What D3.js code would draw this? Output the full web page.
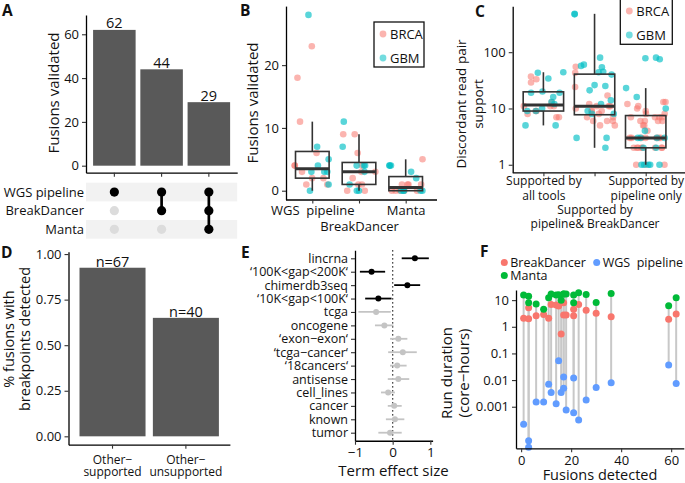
<html>
<head>
<meta charset="utf-8">
<style>
  body { margin: 0; background: #fff; }
  text { font-family: "Open Sans", sans-serif; fill: #111; white-space: pre; }
</style>
</head>
<body>
<svg width="685" height="483"></svg>
<script src="https://d3js.org/d3.v7.min.js"></script>
<script>
// ---------- data ----------
// A: upset bars
var aCounts = [62, 44, 29];
var aTools = ["WGS pipeline", "BreakDancer", "Manta"];
var aSets = [[1, 0, 0], [1, 1, 0], [1, 1, 1]];

// B: fusions validated per sample
var bTools = ["WGS  pipeline", "BreakDancer", "Manta"];
var bBRCA = [
  [23, 18, 11, 6, 4, 4, 3, 2, 2, 1, 1],
  [9, 9, 6, 4, 3, 3, 2, 1, 1, 0, 0],
  [5, 1, 1, 1, 1, 0, 0, 0, 0, 0]
];
var bGBM = [
  [28, 7, 5, 4, 3, 3, 3, 1, 0],
  [11, 7, 4, 4, 4, 3, 1, 0, 0],
  [4, 4, 4, 3, 2, 0, 0, 0, 0, 0]
];

// C: discordant read pair support
var cGroups = ["Supported by\nall tools", "Supported by\npipeline& BreakDancer", "Supported by\npipeline only"];
var cBRCA = [
  [37, 33, 29, 13, 11, 11, 11, 9, 9, 8, 7, 7],
  [55, 43, 24, 17, 12, 11, 11, 11, 10, 9, 9, 9, 8, 7, 7, 6, 6, 6, 5, 5],
  [13, 13, 12, 11, 10, 9, 8, 8, 7, 7, 7, 7, 6, 6, 6, 6, 5, 5, 4, 3, 3, 3, 3, 3, 3, 3, 2, 2, 2, 2, 2, 2, 2, 2, 1, 1, 1]
];
var cGBM = [
  [44, 43, 34, 20, 19, 19, 16, 13, 12, 10, 9, 9, 5, 5],
  [480, 470, 80, 60, 57, 54, 45, 44, 40, 26, 25, 21, 14, 12, 9, 8, 8, 3, 3, 2],
  [80, 78, 75, 23, 16, 10, 4, 3, 3, 3, 3, 2, 2, 1, 1, 1, 1, 1]
];

// D: fraction with breakpoints detected
var dGroups = ["Other\u2212\nsupported", "Other\u2212\nunsupported"];
var dFraction = [0.925, 0.65];
var dN = [67, 40];

// E: term effect sizes
var eTerms = ["lincrna", "\u2018100K<gap<200K\u2018", "chimerdb3seq", "\u201810K<gap<100K\u2018", "tcga", "oncogene",
  "\u2018exon\u2212exon\u2018", "\u2018tcga\u2212cancer\u2018", "\u201818cancers\u2018", "antisense", "cell_lines", "cancer", "known", "tumor"];
var eEffect = [0.59, -0.56, 0.39, -0.38, -0.44, -0.22, 0.15, 0.27, 0.12, 0.15, -0.12, 0.04, 0.06, -0.07];
var eLow = [0.24, -0.87, 0.04, -0.73, -0.91, -0.47, -0.07, -0.12, -0.07, -0.13, -0.31, -0.13, -0.18, -0.38];
var eHigh = [0.96, -0.2, 0.73, -0.03, -0.05, 0.02, 0.39, 0.64, 0.37, 0.44, 0.06, 0.24, 0.31, 0.24];
var eSignif = [1, 1, 1, 1, 0, 0, 0, 0, 0, 0, 0, 0, 0, 0];

// F: run duration vs fusions detected
var fFusions = [1, 3, 3, 6, 9, 11, 12, 14, 15, 16, 17, 17, 18, 21, 21, 23, 26, 30, 36, 59, 62];
var fBreakDancer = [2.1, 2.0, 5.2, 2.6, 2.9, 2.1, 6.9, 6.5, 6.0, 0.53, 7.9, 2.75, 2.75, 4.5, 2.6, 6.9, 4.2, 3.2, 2.4, 1.9, 3.0];
var fWGS = [0.00022, 0.000053, 0.00003, 0.0015, 0.0015, 0.0069, 0.0034, 0.0013, 0.053, 0.0034, 0.013, 0.0049, 0.00075, 0.012, 0.0006, 0.00032, 0.0018, 0.0053, 0.008, 0.037, 0.0075];
var fManta = [15.5, 14, 7.9, 7.1, 4.5, 12.2, 16.8, 15.5, 16, 10, 16.8, 16.8, 16.8, 15.5, 7.9, 18.8, 16.4, 8.2, 17.9, 6.1, 12.2];
var fSeries = ["BreakDancer", "WGS  pipeline", "Manta"];

// ---------- helpers ----------
var FONT = '"Open Sans", sans-serif';
var PINK = "#F8766D", TEAL = "#00BFC4", BLUE = "#619CFF", GREEN = "#00BA38", BAR = "#595959";
var svg = d3.select("svg");

function styleAxis(g, fs) {
  g.attr("font-family", FONT).attr("font-size", fs || 13);
  g.select(".domain").attr("stroke", "#000").attr("stroke-width", 1.3);
  g.selectAll(".tick line").attr("stroke", "#333").attr("stroke-width", 1.1);
  g.selectAll(".tick text").attr("fill", "#111");
  return g;
}

function panelLetter(x, y, s) {
  svg.append("text").attr("x", x).attr("y", y).attr("font-size", 15.5).attr("font-weight", "bold").text(s);
}

function multiline(sel, str, lh) {
  var lines = str.split("\n");
  sel.text(null);
  lines.forEach(function (l, i) {
    sel.append("tspan").attr("x", sel.attr("x")).attr("dy", i === 0 ? 0 : lh).text(l);
  });
}

var rnd = d3.randomUniform.source(d3.randomLcg(0.37))(-1, 1);

function boxStats(vals, tf, inv) {
  var t = vals.map(tf).sort(d3.ascending);
  var q1 = d3.quantileSorted(t, 0.25), med = d3.quantileSorted(t, 0.5), q3 = d3.quantileSorted(t, 0.75);
  var iqr = q3 - q1;
  var lo = d3.min(t.filter(function (v) { return v >= q1 - 1.5 * iqr; }));
  var hi = d3.max(t.filter(function (v) { return v <= q3 + 1.5 * iqr; }));
  return { q1: inv(q1), med: inv(med), q3: inv(q3), lo: inv(lo), hi: inv(hi) };
}

function drawBox(g, cx, w, y, s) {
  g.append("line").attr("x1", cx).attr("x2", cx).attr("y1", y(s.hi)).attr("y2", y(s.q3)).attr("stroke", "#333").attr("stroke-width", 1.6);
  g.append("line").attr("x1", cx).attr("x2", cx).attr("y1", y(s.q1)).attr("y2", y(s.lo)).attr("stroke", "#333").attr("stroke-width", 1.6);
  g.append("rect").attr("x", cx - w / 2).attr("width", w).attr("y", y(s.q3)).attr("height", y(s.q1) - y(s.q3))
    .attr("fill", "none").attr("stroke", "#333").attr("stroke-width", 1.6);
  g.append("line").attr("x1", cx - w / 2).attr("x2", cx + w / 2).attr("y1", y(s.med)).attr("y2", y(s.med)).attr("stroke", "#333").attr("stroke-width", 3);
}

function legendBox(g, x, y, w, h, items) {
  g.append("rect").attr("x", x).attr("y", y).attr("width", w).attr("height", h).attr("fill", "#fff").attr("stroke", "#111").attr("stroke-width", 1.3);
  items.forEach(function (it, i) {
    var cy = y + 12 + i * 24;
    g.append("circle").attr("cx", x + 9).attr("cy", cy).attr("r", 3.4).attr("fill", it.c).attr("fill-opacity", 0.55);
    g.append("text").attr("x", x + 16).attr("y", cy).attr("dy", "0.36em").attr("font-size", 13).text(it.t);
  });
}

// ---------- panel A ----------
var gA = svg.append("g");
var aX = d3.scaleBand().domain(d3.range(aCounts.length)).range([86, 237.2]).paddingInner(0.1).paddingOuter(0.15);
var aY = d3.scaleLinear().domain([-3.2, 68.8]).range([172.7, 15]);
gA.selectAll("rect.bar").data(aCounts).join("rect").attr("class", "bar")
  .attr("x", function (d, i) { return aX(i); }).attr("width", aX.bandwidth())
  .attr("y", function (d) { return aY(d); }).attr("height", function (d) { return aY(0) - aY(d); })
  .attr("fill", BAR);
gA.selectAll("text.lab").data(aCounts).join("text").attr("class", "lab")
  .attr("x", function (d, i) { return aX(i) + aX.bandwidth() / 2; }).attr("y", function (d) { return aY(d) - 1.5; })
  .attr("text-anchor", "middle").attr("font-size", 14.5).text(function (d) { return d; });
styleAxis(gA.append("g").attr("transform", "translate(86,0)")
  .call(d3.axisLeft(aY).tickValues([0, 20, 40, 60]).tickSize(4).tickSizeOuter(0)));
styleAxis(gA.append("g").attr("transform", "translate(0,172.7)")
  .call(d3.axisBottom(aX).tickSize(4).tickSizeOuter(0).tickFormat("")));
gA.append("text").attr("transform", "translate(53.5,93) rotate(-90)").attr("text-anchor", "middle").attr("dy", "0.35em")
  .attr("font-size", 15).text("Fusions validated");

var aRow = d3.scaleBand().domain(aTools).range([182.7, 238.7]);
gA.selectAll("rect.band").data(aTools.filter(function (d, i) { return i % 2 === 0; })).join("rect").attr("class", "band")
  .attr("x", 86).attr("width", 151.2).attr("y", function (d) { return aRow(d); }).attr("height", aRow.bandwidth()).attr("fill", "#f2f2f2");
gA.selectAll("text.row").data(aTools).join("text").attr("class", "row")
  .attr("x", 84).attr("y", function (d) { return aRow(d) + aRow.bandwidth() / 2; }).attr("dy", "0.36em")
  .attr("text-anchor", "end").attr("font-size", 13).text(function (d) { return d; });
aSets.forEach(function (set, i) {
  var cx = aX(i) + aX.bandwidth() / 2;
  var act = aTools.filter(function (t, j) { return set[j]; });
  gA.append("line").attr("x1", cx).attr("x2", cx)
    .attr("y1", aRow(act[0]) + aRow.bandwidth() / 2).attr("y2", aRow(act[act.length - 1]) + aRow.bandwidth() / 2)
    .attr("stroke", "#000").attr("stroke-width", 2.7);
  aTools.forEach(function (t, j) {
    gA.append("circle").attr("cx", cx).attr("cy", aRow(t) + aRow.bandwidth() / 2).attr("r", 4.6)
      .attr("fill", set[j] ? "#000" : "#dcdcdc");
  });
});
panelLetter(2, 16, "A");

// ---------- panel B ----------
var gB = svg.append("g");
var bX = d3.scalePoint().domain(bTools).range([284.3, 433.7]).padding(0.6);
var bY = d3.scaleLinear().domain([-1.4, 29.4]).range([199.5, 6.1]);
var bStep = bX.step();
bTools.forEach(function (t, i) {
  var pts = bBRCA[i].map(function (v) { return { v: v, c: PINK }; }).concat(bGBM[i].map(function (v) { return { v: v, c: TEAL }; }));
  pts.forEach(function (p) {
    gB.append("circle").attr("cx", bX(t) + rnd() * 0.38 * bStep).attr("cy", bY(p.v)).attr("r", 3.3)
      .attr("fill", p.c).attr("fill-opacity", p.c === PINK ? 0.55 : 0.65);
  });
  var s = boxStats(bBRCA[i].concat(bGBM[i]), function (v) { return v; }, function (v) { return v; });
  drawBox(gB, bX(t), 0.72 * bStep, bY, s);
});
styleAxis(gB.append("g").attr("transform", "translate(286,0)")
  .call(d3.axisLeft(bY).tickValues([0, 10, 20]).tickSize(4).tickSizeOuter(0)));
var bAx = styleAxis(gB.append("g").attr("transform", "translate(0,199.5)")
  .call(d3.axisBottom(bX).tickSize(4).tickSizeOuter(0)));
bAx.select(".domain").attr("d", "M286,0.5H437");
bAx.selectAll(".tick text").attr("dy", null).attr("y", function (d, i) { return i === 1 ? 28 : 12.5; }).attr("dominant-baseline", "middle");
gB.append("text").attr("transform", "translate(252.5,103) rotate(-90)").attr("text-anchor", "middle").attr("dy", "0.35em")
  .attr("font-size", 15).text("Fusions validated");
legendBox(gB, 374, 22, 50, 45, [{ c: PINK, t: "BRCA" }, { c: TEAL, t: "GBM" }]);
panelLetter(240, 16, "B");

// ---------- panel C ----------
var gC = svg.append("g");
var cX = d3.scalePoint().domain(cGroups).range([512.7, 676.4]).padding(0.6);
var cY = d3.scaleLog().domain([Math.pow(10, -0.134), Math.pow(10, 2.815)]).range([172.3, 6.3]);
var cStep = cX.step();
cGroups.forEach(function (g, i) {
  var pts = cBRCA[i].map(function (v) { return { v: v, c: PINK }; }).concat(cGBM[i].map(function (v) { return { v: v, c: TEAL }; }));
  pts.forEach(function (p) {
    gC.append("circle").attr("cx", cX(g) + rnd() * 0.4 * cStep).attr("cy", cY(p.v)).attr("r", 3.3)
      .attr("fill", p.c).attr("fill-opacity", p.c === PINK ? 0.55 : 0.65);
  });
  var s = boxStats(cBRCA[i].concat(cGBM[i]), Math.log10, function (v) { return Math.pow(10, v); });
  drawBox(gC, cX(g), 0.79 * cStep, cY, s);
});
styleAxis(gC.append("g").attr("transform", "translate(512.7,0)")
  .call(d3.axisLeft(cY).tickValues([1, 10, 100]).tickFormat(d3.format("d")).tickSize(4).tickSizeOuter(0)));
var cAx = styleAxis(gC.append("g").attr("transform", "translate(0,172.3)")
  .call(d3.axisBottom(cX).tickSize(4).tickSizeOuter(0)));
cAx.select(".domain").attr("d", "M512.7,0.5H685");
cAx.selectAll(".tick text").each(function (d, i) {
  var t = d3.select(this).attr("dy", null).attr("y", i === 1 ? 41.5 : 13).attr("font-size", 12);
  multiline(t.attr("x", 0), d, 14.5);
});
gC.append("text").attr("transform", "translate(470,104) rotate(-90)").attr("text-anchor", "middle").attr("font-size", 13.5)
  .call(function (t) {
    t.append("tspan").attr("x", 0).attr("y", -4).text("Discordant read pair");
    t.append("tspan").attr("x", 0).attr("y", 13).text("support");
  });
legendBox(gC, 620.3, -1, 52, 45.3, [{ c: PINK, t: "BRCA" }, { c: TEAL, t: "GBM" }]);
panelLetter(475, 16.5, "C");

// ---------- panel D ----------
var gD = svg.append("g");
var dX = d3.scaleBand().domain(dGroups).range([68.5, 229.9]).paddingInner(0.1).paddingOuter(0.15);
var dY = d3.scaleLinear().domain([-0.046, 1.013]).range([444.7, 251.7]);
gD.selectAll("rect").data(dFraction).join("rect")
  .attr("x", function (d, i) { return dX(dGroups[i]); }).attr("width", dX.bandwidth())
  .attr("y", function (d) { return dY(d); }).attr("height", function (d) { return dY(0) - dY(d); }).attr("fill", BAR);
gD.selectAll("text.lab").data(dFraction).join("text").attr("class", "lab")
  .attr("x", function (d, i) { return dX(dGroups[i]) + dX.bandwidth() / 2; }).attr("y", function (d) { return dY(d) - 0.5; })
  .attr("text-anchor", "middle").attr("font-size", 14.5).text(function (d, i) { return "n=" + dN[i]; });
styleAxis(gD.append("g").attr("transform", "translate(68.5,0)")
  .call(d3.axisLeft(dY).tickValues([0, 0.25, 0.5, 0.75, 1]).tickFormat(d3.format(".2f")).tickSize(4).tickSizeOuter(0)));
var dAx = styleAxis(gD.append("g").attr("transform", "translate(0,444.7)")
  .call(d3.axisBottom(dX).tickSize(4).tickSizeOuter(0)));
dAx.selectAll(".tick text").each(function (d) {
  var t = d3.select(this).attr("dy", null).attr("y", 19).attr("font-size", 12);
  multiline(t.attr("x", 0), d, 12.5);
});
gD.append("text").attr("transform", "translate(17,339) rotate(-90)").attr("text-anchor", "middle").attr("font-size", 14.5)
  .call(function (t) {
    t.append("tspan").attr("x", 0).attr("y", -3).text("% fusions with");
    t.append("tspan").attr("x", 0).attr("y", 13).text("breakpoints detected");
  });
panelLetter(1, 257.5, "D");

// ---------- panel E ----------
var gE = svg.append("g");
var eX = d3.scaleLinear().domain([-1.0, 1.06]).range([355, 432.6]);
var eY = d3.scalePoint().domain(eTerms).range([250.25, 440.75]).padding(0.6);
gE.append("line").attr("x1", eX(0)).attr("x2", eX(0)).attr("y1", 250.25).attr("y2", 440.75)
  .attr("stroke", "#111").attr("stroke-width", 1.3).attr("stroke-dasharray", "1.3,2.7");
eTerms.forEach(function (t, i) {
  var col = eSignif[i] ? "#000" : "#c4c4c4";
  gE.append("line").attr("x1", eX(eLow[i])).attr("x2", eX(eHigh[i])).attr("y1", eY(t)).attr("y2", eY(t))
    .attr("stroke", col).attr("stroke-width", 1.8);
  gE.append("circle").attr("cx", eX(eEffect[i])).attr("cy", eY(t)).attr("r", 3).attr("fill", col);
});
styleAxis(gE.append("g").attr("transform", "translate(355,0)")
  .call(d3.axisLeft(eY).tickSize(4).tickSizeOuter(0)), 12.5);
styleAxis(gE.append("g").attr("transform", "translate(0,440.75)")
  .call(d3.axisBottom(eX).tickValues([-1, 0, 1]).tickFormat(d3.format("d")).tickSize(4).tickSizeOuter(0)), 13.5);
gE.append("text").attr("x", 393.5).attr("y", 476).attr("text-anchor", "middle").attr("font-size", 15).text("Term effect size");
panelLetter(241, 258, "E");

// ---------- panel F ----------
var gF = svg.append("g");
var fX = d3.scaleLinear().domain([-2.05, 65.05]).range([516, 683.8]);
var fY = d3.scaleLog().domain([Math.pow(10, -4.56), Math.pow(10, 1.38)]).range([448.3, 290]);
var fVals = [fBreakDancer, fWGS, fManta];
var fCols = [PINK, BLUE, GREEN];
fFusions.forEach(function (x, i) {
  var vs = fVals.map(function (a) { return a[i]; });
  gF.append("line").attr("x1", fX(x)).attr("x2", fX(x)).attr("y1", fY(d3.min(vs))).attr("y2", fY(d3.max(vs)))
    .attr("stroke", "#c8c8c8").attr("stroke-width", 2);
});
fVals.forEach(function (arr, k) {
  gF.selectAll("circle.s" + k).data(arr).join("circle").attr("class", "s" + k)
    .attr("cx", function (d, i) { return fX(fFusions[i]); }).attr("cy", function (d) { return fY(d); })
    .attr("r", 3.5).attr("fill", fCols[k]);
});
styleAxis(gF.append("g").attr("transform", "translate(516,0)")
  .call(d3.axisLeft(fY).tickValues([0.001, 0.01, 0.1, 1, 10]).tickFormat(function (d) { return String(d); }).tickSize(4).tickSizeOuter(0)));
styleAxis(gF.append("g").attr("transform", "translate(0,448.3)")
  .call(d3.axisBottom(fX).tickValues([0, 20, 40, 60]).tickSize(4).tickSizeOuter(0)), 13);
gF.append("text").attr("x", 600).attr("y", 480).attr("text-anchor", "middle").attr("font-size", 14.5).text("Fusions detected");
gF.append("text").attr("transform", "translate(455,373) rotate(-90)").attr("text-anchor", "middle").attr("font-size", 15)
  .call(function (t) {
    t.append("tspan").attr("x", 0).attr("y", -3).text("Run duration");
    t.append("tspan").attr("x", 0).attr("y", 14).text("(core\u2212hours)");
  });
var fLeg = [{ x: 504.3, y: 262.6 }, { x: 596.7, y: 262.6 }, { x: 504.3, y: 275.4 }];
fSeries.forEach(function (s, k) {
  gF.append("circle").attr("cx", fLeg[k].x).attr("cy", fLeg[k].y).attr("r", 3.5).attr("fill", fCols[k]);
  gF.append("text").attr("x", fLeg[k].x + 6).attr("y", fLeg[k].y).attr("dy", "0.36em").attr("font-size", 12.5).text(s);
});
panelLetter(480, 257, "F");
</script>
</body>
</html>
